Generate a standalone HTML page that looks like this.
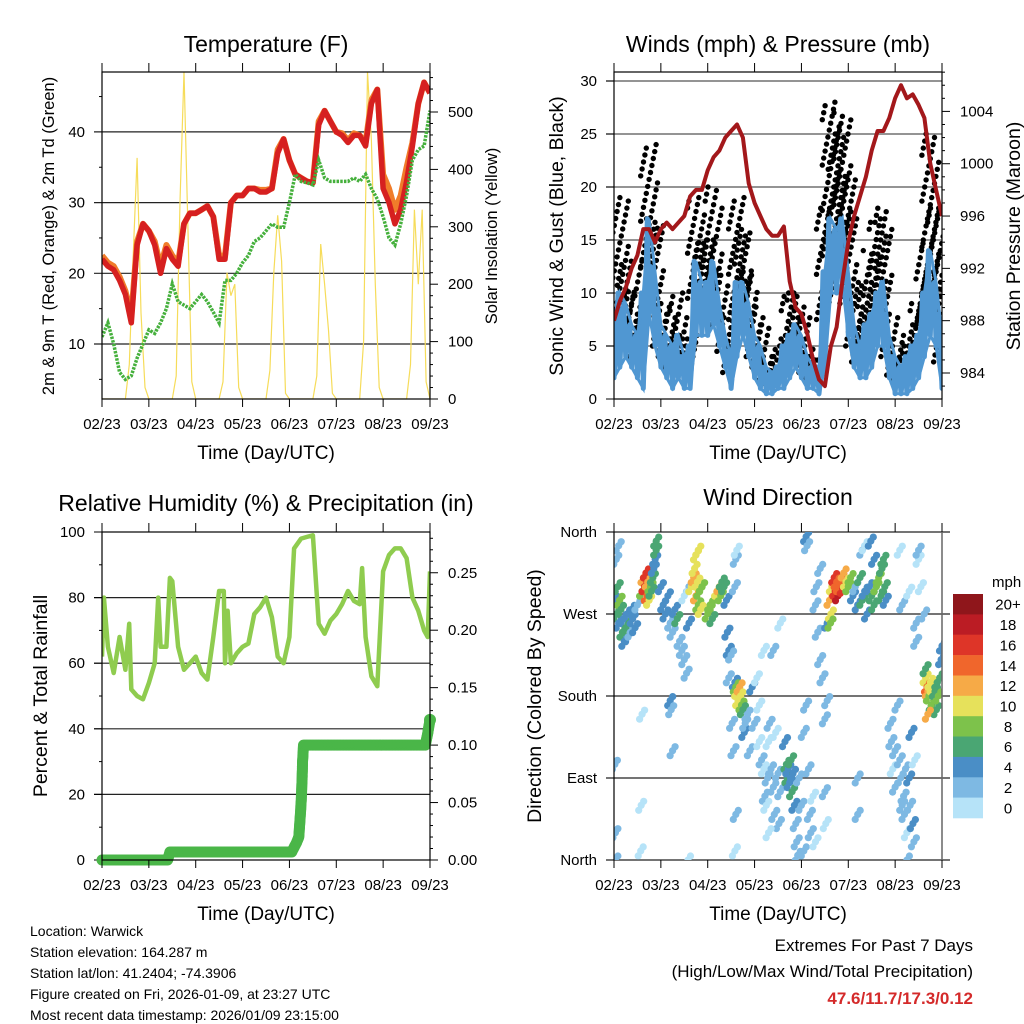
<!DOCTYPE html>
<html><head><meta charset="utf-8"><title>Station Meteogram</title>
<style>
html,body{margin:0;padding:0;background:#fff;}
svg{display:block;font-family:"Liberation Sans",Arial,sans-serif;}
</style></head>
<body>
<svg id="chart" width="1024" height="1024" viewBox="0 0 1024 1024" xmlns="http://www.w3.org/2000/svg"></svg>
<script>
// ---------- DATA ----------
const xTickLabels = ["02/23","03/23","04/23","05/23","06/23","07/23","08/23","09/23"];
const t3 = [];
for (let i = 0; i <= 56; i++) t3.push(i * 0.125);
const temp2m = [22,21,20.5,19,17,13,24,27,26,24,20,23.5,22,21,27,28.5,28.5,29,29.5,28,22,22,30,31,31,32,32,31.5,31.5,32,37,39,36,34,33.5,33,32.8,41,43,41.5,40,39.5,38.5,39.5,39.5,38,44,46,32,30,27,29,33,38,44,47,45.5];
const temp9m = [22.5,21.5,21,19.5,17.5,14,24.5,27,26,24.5,21,24,22.5,21.5,27,28.5,28.5,29,29.5,28,22.5,22.5,30,31,31,32,32,31.8,31.8,32,37.5,39,36,34,33.5,33,32.8,41.5,43,41.5,40,39.8,38.8,39.8,39.5,38.5,44.5,46,34,32,29,31,35,38.5,44,47,45.5];
const dewpt = [11,13,10,6,5,5.5,8,10,12,11.5,13,15,18.5,16,15.5,15,16,17,16,14.5,13,19,19,20,21.5,22.5,24.5,25,26,27,26.5,26.5,30,34,33,32.8,32.5,36,33.5,33,33,33,33,33.5,33,34,32,30.5,28,25,24,27,31,36,37.5,38,43];
const solar = [0,0,0,0,0,0,0,60,250,420,150,20, 0,0,0,0,0,0,0,40,350,570,300,30, 0,0,0,0,0,0,0,30,220,180,200,20, 0,0,0,0,0,0,0,50,220,320,240,10, 0,0,0,0,0,0,0,40,270,200,120,10, 0,0,0,0,0,0,0,100,570,450,200,20, 0,0,0,0,0,0,0,60,330,200,330,30, 0];
const pressure = [988,989.5,990.5,992,993,995,995,994,995,995.5,995,995.5,996,997.5,998,998,999.5,1000.5,1001,1002,1002.5,1003,1002,998.5,997,996,995,994.5,994.5,995.2,991,989,988.5,987,985,983.5,983,986,987.5,991,994,996,997.5,999,1001,1002.5,1002.5,1003.5,1005,1006,1005,1005.3,1004.5,1003.5,1000,998,996];
const windLo = [2,3,4,3,2,1,8,5,3,2,1,2,1,1,6,6,6,7,5,3,1,4,6,4,2,1,0.5,0.5,1,1,2,3,2,1,1,0.5,3,10,10,11,6,3,2,2,3,5,5,2,0.5,0.5,0.5,1,2,4,6,5,1];
const windHi = [6,10,9,7,6,10,17,12,7,6,5,6,4,5,13,11,11,13,9,6,4,11,11,9,6,5,3,2.5,3,5,6,7,6,4,3,3,12,17,16,17,12,7,5,7,8,10,11,6,4,3,4,5,6,10,14,11,6];
const gust = [8,19,13,10,8,13,24,17,9,8,6,10,5,6,19,15,15,20,12,8,5,19,16,12,9,7,4,3,5,6,10,10,8,5,4,4,18,28,25,27,21,11,9,11,14,17,18,8,6,4,5,7,9,15,25,18,12];
const rhTime = [0,0.04,0.125,0.25,0.375,0.5,0.58,0.625,0.75,0.875,1.0,1.125,1.2,1.25,1.375,1.45,1.5,1.625,1.75,1.875,2.0,2.125,2.25,2.375,2.5,2.6,2.625,2.68,2.75,2.875,3.0,3.125,3.25,3.375,3.5,3.625,3.75,3.875,4.0,4.1,4.25,4.375,4.5,4.625,4.75,4.875,5.0,5.125,5.25,5.375,5.5,5.55,5.625,5.75,5.875,6.0,6.125,6.25,6.375,6.5,6.625,6.75,6.875,6.95,7.0];
const rhVal = [62,80,65,57,68,58,72,52,50,49,54,60,80,65,65,86,85,65,58,60,62,57,55,68,82,82,60,76,60,63,65,66,75,77,80,74,62,60,68,95,98,98.5,99,72,69,73,75,78,82,79,78,89,68,56,53,88,93,95,95,92,80,76,70,68,88];
const rainTime = [0,1.4,1.45,4.05,4.15,4.2,4.25,4.27,4.28,4.3,6.9,6.95,7.0];
const rainVal = [0,0,0.007,0.007,0.015,0.02,0.05,0.07,0.085,0.1,0.1,0.11,0.122];
const wdTime = [0.02,0.05,0.08,0.1,0.12,0.15,0.18,0.2,0.22,0.25,0.28,0.3,0.32,0.35,0.38,0.4,0.45,0.5,0.05,0.1,0.02,0.03,0.03,
0.6,0.63,0.65,0.68,0.7,0.72,0.75,0.78,0.8,0.83,0.85,0.88,0.9,0.9,0.58,0.57,0.6,
1.0,1.05,1.1,1.15,1.2,1.25,1.3,1.35,1.4,1.45,1.5,1.55,1.2,1.22,1.25,1.6,1.6,1.5,1.58,
1.65,1.7,1.72,1.75,1.78,1.8,1.82,1.85,1.88,1.8,1.75,
2.0,2.05,2.1,2.15,2.2,2.25,2.28,2.3,2.35,2.4,2.42,2.45,2.45,
2.5,2.52,2.55,2.58,2.6,2.63,2.65,2.68,2.7,2.72,2.75,2.58,2.6,2.62,2.78,2.8,2.85,2.9,2.95,3.0,3.05,2.6,2.58,
3.1,3.15,3.2,3.22,3.25,3.28,3.3,3.32,3.35,3.4,3.42,3.45,3.5,3.52,3.55,3.2,3.4,3.55,3.1,3.3,
3.65,3.68,3.7,3.72,3.75,3.78,3.8,3.82,3.85,3.88,3.9,3.92,3.95,4.0,4.05,4.1,4.12,4.15,4.18,4.2,4.25,4.3,4.1,4.05,
4.3,4.32,4.35,4.4,4.4,4.45,4.5,4.5,4.55,4.52,4.55,
4.6,4.63,4.65,4.7,4.72,4.75,4.78,4.8,4.85,4.88,4.9,4.95,5.0,5.05,4.62,
5.1,5.15,5.2,5.25,5.3,5.35,5.4,5.45,5.5,5.55,5.6,5.65,5.7,5.72,5.75,5.78,5.8,5.2,5.2,5.3,5.35,5.48,5.55,
5.9,5.92,5.95,6.0,6.0,6.05,6.1,6.12,6.15,6.18,6.2,6.22,6.25,6.3,6.32,6.35,6.38,6.4,6.42,6.45,6.45,6.5,6.5,6.55,6.15,6.1,6.3,6.25,
6.62,6.65,6.68,6.7,6.72,6.75,6.78,6.8,6.82,6.85,6.88,6.9,6.92,6.95,6.98,7.0,6.7,6.65];
const wdDir = [285,270,300,260,285,275,250,265,240,255,270,245,260,250,275,265,255,280,330,345,105,30,0,
295,310,300,315,290,305,285,300,295,310,320,330,340,350,60,10,160,
300,280,270,290,260,250,275,265,240,230,220,205,175,165,120,260,300,290,0,
300,310,320,290,305,280,295,275,300,340,335,
270,280,265,285,295,300,290,305,300,285,250,230,200,
225,150,120,195,190,185,175,190,180,170,165,300,330,340,140,150,160,120,190,150,200,50,10,
130,110,100,70,60,90,130,150,100,80,50,140,95,40,75,230,230,260,170,30,
130,105,90,100,85,110,75,95,60,40,20,5,90,60,10,355,345,100,50,30,70,20,170,140,
280,300,250,320,220,200,155,75,175,40,260,
285,270,300,310,295,305,290,300,310,298,315,305,300,310,260,
290,300,280,310,285,295,270,300,290,280,300,310,290,320,330,300,285,90,50,340,345,350,330,
150,130,100,120,80,170,110,90,60,70,50,100,30,90,60,140,40,20,110,260,240,330,340,300,280,340,295,0,
270,200,190,185,180,195,170,190,175,185,165,195,180,200,220,235,160,210];
const wdSpd = [5,6,7,5,8,7,6,5,4,6,5,4,7,3,4,5,4,3,2,3,2,2,2,
8,12,17,16,14,12,10,8,6,6,5,5,7,6,1,1,1,
4,4,4,5,3,3,4,6,2,3,2,2,4,3,2,4,3,1,1,
10,12,11,12,10,8,9,10,8,10,10,
8,8,7,8,10,12,9,7,6,5,4,4,3,
3,2,2,4,8,10,11,12,10,8,6,2,2,1,4,3,3,2,4,2,1,2,1,
1,2,1,2,1,3,1,2,2,3,2,1,3,2,2,1,3,1,1,1,
4,6,6,5,5,6,6,4,4,3,3,3,2,2,2,4,3,2,2,3,1,1,3,2,
3,3,2,2,3,2,3,2,2,1,4,
12,11,10,16,17,15,18,14,14,16,12,10,8,8,8,
4,3,4,6,6,5,4,4,7,6,8,8,7,6,6,7,5,3,3,2,1,4,5,
2,2,1,2,2,2,2,3,2,3,2,2,1,4,3,4,4,3,1,2,3,1,2,1,2,1,1,2,
3,10,14,12,8,10,7,11,9,7,6,6,8,7,4,4,12,6];
const speedBins = ["0","2","4","6","8","10","12","14","16","18","20+"];
const binColors = ["#b6e3f8","#7eb9e3","#4a8ec6","#4aa673","#7dc24b","#e6e15b","#f6aa47","#f0662c","#de3528","#bb1c24","#8f161b"];

// ---------- HELPERS ----------
const svg = document.getElementById('chart');
const NS = 'http://www.w3.org/2000/svg';
function el(tag, attrs, name, parent) {
  const e = document.createElementNS(NS, tag);
  for (const k in attrs) e.setAttribute(k, attrs[k]);
  
  
  (parent || svg).appendChild(e);
  return e;
}
function txt(x, y, s, size, anchor, name, extra, parent) {
  const a = {x: x, y: y, 'font-size': size, 'text-anchor': anchor || 'start', fill: '#000'};
  if (extra) for (const k in extra) a[k] = extra[k];
  const e = el('text', a, name, parent);
  e.textContent = s;
  return e;
}
function line(x1, y1, x2, y2, stroke, w, name, parent) {
  return el('line', {x1: x1, y1: y1, x2: x2, y2: y2, stroke: stroke, 'stroke-width': w}, name, parent);
}
function xs(P, d) { return P.x0 + d / 7 * (P.x1 - P.x0); }

const TL = {x0: 102, x1: 430, y0: 72, y1: 399};
const TR = {x0: 614, x1: 942, y0: 72, y1: 399};
const BL = {x0: 102, x1: 430, y0: 532, y1: 860};
const BR = {x0: 614, x1: 942, y0: 532, y1: 860};

function xAxis(P, g) {
  for (let i = 0; i < 8; i++) {
    const x = xs(P, i);
    line(x, P.y0 - 9, x, P.y0, '#000', 1, 'x-tick-top', g);
    line(x, P.y1, x, P.y1 + 8, '#000', 1, 'x-tick-bottom', g);
    txt(x, P.y1 + 30, xTickLabels[i], 15, 'middle', 'x-tick-label', null, g);
  }
  txt((P.x0 + P.x1) / 2, P.y1 + 60, 'Time (Day/UTC)', 19, 'middle', 'x-axis-title', null, g);
}
function frame(P, g) {
  el('rect', {x: P.x0, y: P.y0, width: P.x1 - P.x0, height: P.y1 - P.y0, fill: 'none', stroke: '#000', 'stroke-width': 1.2}, 'plot-frame', g);
}
function clip(P, id) {
  const cp = el('clipPath', {id: id}, 'clip-' + id);
  el('rect', {x: P.x0, y: P.y0, width: P.x1 - P.x0, height: P.y1 - P.y0}, 'clip-rect', cp);
}
function polyPts(P, times, vals, ys) {
  return times.map((t, i) => xs(P, t).toFixed(1) + ',' + ys(vals[i]).toFixed(1)).join(' ');
}

// ---------- PANEL 1: TEMPERATURE ----------
(function () {
  const P = TL;
  const g = el('g', {}, 'temperature-panel');
  clip(P, 'c1');
  const yT = v => 344 - (v - 10) * 7.07;
  const yS = v => 399 - v * 0.574;
  txt(266, 52, 'Temperature (F)', 23, 'middle', 'temperature-title', null, g);
  [10, 20, 30, 40].forEach(v => {
    line(P.x0 - 8, yT(v), P.x1, yT(v), '#222', 1.2, 'grid-line', g);
    txt(P.x0 - 17, yT(v) + 5, String(v), 15, 'end', 'y-tick-label', null, g);
  });
  [5, 15, 25, 35, 45].forEach(v => line(P.x0 - 3, yT(v), P.x0, yT(v), '#000', 1, 'y-minor-tick', g));
  for (let v = 0; v <= 560; v += 20) {
    const major = v % 100 === 0;
    line(P.x1, yS(v), P.x1 + (major ? 8 : 3), yS(v), '#000', 1, 'y2-tick', g);
    if (major) txt(P.x1 + 18, yS(v) + 5, String(v), 15, 'start', 'y2-tick-label', null, g);
  }
  const cg = el('g', {'clip-path': 'url(#c1)'}, 'temperature-series', g);
  const st = solar.map((v, i) => i / 12);
  el('polyline', {points: polyPts(P, st, solar, yS), fill: 'none', stroke: '#f6dc5a', 'stroke-width': 1.2}, 'solar-insolation-line', cg);
  el('polyline', {points: polyPts(P, t3, temp9m, yT), fill: 'none', stroke: '#f07c2a', 'stroke-width': 6, 'stroke-linejoin': 'round'}, 'temp-9m-line', cg);
  el('polyline', {points: polyPts(P, t3, temp2m, yT), fill: 'none', stroke: '#d62020', 'stroke-width': 5.5, 'stroke-linejoin': 'round'}, 'temp-2m-line', cg);
  el('polyline', {points: polyPts(P, t3, dewpt, yT), fill: 'none', stroke: '#45b03c', 'stroke-width': 3.5, 'stroke-dasharray': '2.5,1.2'}, 'dewpoint-line', cg);
  frame(P, g);
  xAxis(P, g);
  txt(0, 0, '2m & 9m T (Red, Orange) & 2m Td (Green)', 16.5, 'middle', 'y-axis-title', {transform: 'translate(54,236) rotate(-90)'}, g);
  txt(0, 0, 'Solar Insolation (Yellow)', 16.5, 'middle', 'y2-axis-title', {transform: 'translate(497,236) rotate(-90)'}, g);
})();

// ---------- PANEL 2: WINDS & PRESSURE ----------
(function () {
  const P = TR;
  const g = el('g', {}, 'winds-panel');
  clip(P, 'c2');
  const yW = v => 399 - v * 10.6;
  const yP = v => 373 - (v - 984) * 13.08;
  txt(778, 52, 'Winds (mph) & Pressure (mb)', 23, 'middle', 'winds-title', null, g);
  [5, 10, 15, 20, 25, 30].forEach(v => line(P.x0 - 8, yW(v), P.x1, yW(v), '#555', 1.2, 'grid-line', g));
  [0, 5, 10, 15, 20, 25, 30].forEach(v => {
    line(P.x0 - 8, yW(v), P.x0, yW(v), '#000', 1, 'y-tick', g);
    txt(P.x0 - 17, yW(v) + 5, String(v), 15, 'end', 'y-tick-label', null, g);
  });
  for (let v = 983; v <= 1007; v++) {
    const major = v % 4 === 0;
    line(P.x1, yP(v), P.x1 + (major ? 8 : 3), yP(v), '#000', 1, 'y2-tick', g);
    if (major) txt(P.x1 + 18, yP(v) + 5, String(v), 15, 'start', 'y2-tick-label', null, g);
  }
  const cg = el('g', {'clip-path': 'url(#c2)'}, 'wind-series', g);
  t3.forEach((t, i) => {
    const lo = windLo[i] + (windHi[i] - windLo[i]) * 0.5, hi = gust[i];
    const n = Math.max(5, Math.round((hi - lo) * 3));
    for (let k = 0; k <= n; k++) {
      const v = lo + (hi - lo) * k / n;
      const dx = ((k * 7) % 13 - 6) * 1.4;
      el('circle', {cx: (xs(P, t) + dx).toFixed(1), cy: yW(v).toFixed(1), r: 2.7, fill: '#000'}, 'gust-dot', cg);
    }
  });
  const zz = [];
  t3.forEach((t, i) => {
    zz.push(xs(P, t - 0.04).toFixed(1) + ',' + yW(windHi[i]).toFixed(1));
    zz.push(xs(P, t).toFixed(1) + ',' + yW(windLo[i]).toFixed(1));
    zz.push(xs(P, t + 0.03).toFixed(1) + ',' + yW((windHi[i] + windLo[i]) / 2).toFixed(1));
  });
  el('polyline', {points: zz.join(' '), fill: 'none', stroke: '#5097d2', 'stroke-width': 5, 'stroke-linejoin': 'round'}, 'sonic-wind-line', cg);
  el('polyline', {points: polyPts(P, t3, windHi, yW), fill: 'none', stroke: '#5097d2', 'stroke-width': 3}, 'sonic-wind-upper', cg);
  el('polyline', {points: polyPts(P, t3, windLo, yW), fill: 'none', stroke: '#5097d2', 'stroke-width': 3}, 'sonic-wind-lower', cg);
  el('polyline', {points: polyPts(P, t3, pressure, yP), fill: 'none', stroke: '#a3181b', 'stroke-width': 4, 'stroke-linejoin': 'round'}, 'pressure-line', cg);
  frame(P, g);
  xAxis(P, g);
  txt(0, 0, 'Sonic Wind & Gust (Blue, Black)', 19.5, 'middle', 'y-axis-title', {transform: 'translate(563,236) rotate(-90)'}, g);
  txt(0, 0, 'Station Pressure (Maroon)', 19.5, 'middle', 'y2-axis-title', {transform: 'translate(1020,236) rotate(-90)'}, g);
})();

// ---------- PANEL 3: RH & PRECIP ----------
(function () {
  const P = BL;
  const g = el('g', {}, 'humidity-panel');
  clip(P, 'c3');
  const yR = v => 860 - v * 3.28;
  const yP = v => 860 - v * 1149;
  txt(266, 511, 'Relative Humidity (%) & Precipitation (in)', 23, 'middle', 'humidity-title', null, g);
  [20, 40, 60, 80].forEach(v => line(P.x0 - 8, yR(v), P.x1, yR(v), '#222', 1.2, 'grid-line', g));
  [0, 20, 40, 60, 80, 100].forEach(v => {
    line(P.x0 - 8, yR(v), P.x0, yR(v), '#000', 1, 'y-tick', g);
    txt(P.x0 - 17, yR(v) + 5, String(v), 15, 'end', 'y-tick-label', null, g);
  });
  [10, 30, 50, 70, 90].forEach(v => line(P.x0 - 3, yR(v), P.x0, yR(v), '#000', 1, 'y-minor-tick', g));
  for (let k = 0; k <= 28; k++) {
    const v = k / 100;
    const major = k % 5 === 0;
    line(P.x1, yP(v), P.x1 + (major ? 8 : 3), yP(v), '#000', 1, 'y2-tick', g);
    if (major) txt(P.x1 + 18, yP(v) + 5, v.toFixed(2), 15, 'start', 'y2-tick-label', null, g);
  }
  const cg = el('g', {}, 'humidity-series', g);
  el('polyline', {points: polyPts(P, rhTime, rhVal, yR), fill: 'none', stroke: '#8fcc4f', 'stroke-width': 4.5, 'stroke-linejoin': 'round', 'clip-path': 'url(#c3)'}, 'relative-humidity-line', cg);
  for (let i = 0; i < rainTime.length - 1; i++) {
    const x1 = xs(P, rainTime[i]), x2 = xs(P, rainTime[i + 1]);
    const y1 = yP(rainVal[i]), y2 = yP(rainVal[i + 1]);
    const n = Math.max(1, Math.ceil(Math.hypot(x2 - x1, y2 - y1) / 1.5));
    for (let k = 0; k < n; k++) {
      el('circle', {cx: (x1 + (x2 - x1) * k / n).toFixed(1), cy: (y1 + (y2 - y1) * k / n).toFixed(1), r: 5.5, fill: '#4ab648'}, 'rainfall-dot', cg);
    }
  }
  el('circle', {cx: xs(P, 7), cy: yP(rainVal[rainVal.length - 1]), r: 6, fill: '#4ab648'}, 'rainfall-dot', cg);
  frame(P, g);
  xAxis(P, g);
  txt(0, 0, 'Percent & Total Rainfall', 19.5, 'middle', 'y-axis-title', {transform: 'translate(47,696) rotate(-90)'}, g);
})();

// ---------- PANEL 4: WIND DIRECTION ----------
(function () {
  const P = BR;
  const g = el('g', {}, 'wind-direction-panel');
  clip(P, 'c4');
  const yD = v => 860 - v * 0.9111;
  txt(778, 505, 'Wind Direction', 23, 'middle', 'wind-direction-title', null, g);
  const dirs = [[0, 'North'], [90, 'East'], [180, 'South'], [270, 'West'], [360, 'North']];
  dirs.forEach(d => {
    line(P.x0 - 8, yD(d[0]), P.x1 + 8, yD(d[0]), '#222', 1.2, 'grid-line', g);
    txt(P.x0 - 17, yD(d[0]) + 5, d[1], 15, 'end', 'y-tick-label', null, g);
  });
  const cg = el('g', {'clip-path': 'url(#c4)'}, 'direction-points', g);
  const offs = [[0, 0], [2.5, -4], [-2.5, 5]];
  wdTime.forEach((t, i) => {
    const b = Math.min(10, Math.floor(wdSpd[i] / 2));
    offs.forEach(o => {
      el('circle', {cx: (xs(P, t) + o[0]).toFixed(1), cy: (yD(wdDir[i]) + o[1]).toFixed(1), r: 3.6, fill: binColors[b]}, 'direction-dot', cg);
    });
  });
  line(P.x0, P.y0, P.x0, P.y1, '#000', 1.2, 'left-axis-line', g);
  line(P.x1, P.y0, P.x1, P.y1, '#666', 1.5, 'right-axis-line', g);
  xAxis(P, g);
  txt(0, 0, 'Direction (Colored By Speed)', 19.5, 'middle', 'y-axis-title', {transform: 'translate(541,696) rotate(-90)'}, g);
  const lg = el('g', {}, 'speed-colorbar', g);
  const top = 594, bh = (818 - 594) / 11;
  txt(992, 587, 'mph', 15, 'start', 'colorbar-unit', null, lg);
  for (let k = 0; k < 11; k++) {
    const idx = 10 - k;
    el('rect', {x: 953, y: (top + k * bh).toFixed(1), width: 30, height: (bh + 0.3).toFixed(1), fill: binColors[idx]}, 'colorbar-box', lg);
    txt(1008, top + k * bh + bh / 2 + 5.5, speedBins[idx], 15, 'middle', 'colorbar-label', null, lg);
  }
})();

// ---------- FOOTER ----------
(function () {
  const g = el('g', {}, 'station-info');
  const lines = ['Location: Warwick', 'Station elevation: 164.287 m', 'Station lat/lon: 41.2404; -74.3906', 'Figure created on Fri, 2026-01-09, at 23:27 UTC', 'Most recent data timestamp: 2026/01/09 23:15:00'];
  lines.forEach((s, i) => txt(30, 936 + i * 21, s, 14, 'start', 'station-info-line', null, g));
  const r = el('g', {}, 'extremes-summary');
  txt(973, 951, 'Extremes For Past 7 Days', 17, 'end', 'extremes-heading', null, r);
  txt(973, 977, '(High/Low/Max Wind/Total Precipitation)', 17, 'end', 'extremes-subheading', null, r);
  txt(973, 1004, '47.6/11.7/17.3/0.12', 17, 'end', 'extremes-values', {fill: '#d42a2a', 'font-weight': 'bold'}, r);
})();
</script>
</body></html>
